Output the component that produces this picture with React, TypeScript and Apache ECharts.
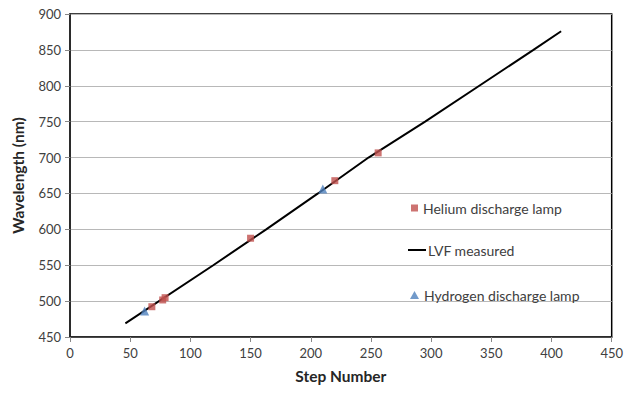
import React, { useEffect, useRef } from "react";
import * as echarts from "echarts";

const heliumPoints: [number, number][] = [
  [68, 492.2],
  [77, 501.6],
  [79, 504.8],
  [150, 587.6],
  [220, 667.8],
  [256, 706.5],
];
const hydrogenPoints: [number, number][] = [
  [62, 486.1],
  [210, 656.3],
];
const lvfMeasured: [number, number][] = [
  [46, 469],
  [119, 550],
  [163, 600],
  [206, 650],
  [248, 700],
  [295, 750],
  [340, 800],
  [385, 850],
  [408, 876],
];
const seriesNames = ["Helium discharge lamp", "LVF measured", "Hydrogen discharge lamp"];

const FONT = "Lato, 'Open Sans', sans-serif";

export default function App() {
  const ref = useRef<HTMLDivElement>(null);
  useEffect(() => {
    if (!ref.current) return;
    const chart = echarts.init(ref.current, undefined, { renderer: "svg" });
    const legendBase = {
      orient: "vertical" as const,
      itemGap: 0,
      textStyle: { color: "#404040", fontSize: 14, fontFamily: FONT },
      selectedMode: false,
    };
    chart.setOption({
      animation: false,
      backgroundColor: "#fff",
      grid: {
        left: 70,
        right: 14,
        top: 14,
        bottom: 56,
        show: true,
        borderColor: "#000",
        borderWidth: 1.5,
      },
      legend: [
        { ...legendBase, left: 406, top: 196, itemWidth: 7, itemHeight: 7, data: [{ name: seriesNames[0], icon: "rect" }] },
        { ...legendBase, left: 403, top: 238, itemWidth: 18, itemHeight: 2, textStyle: { ...legendBase.textStyle, padding: [0, 0, 0, -3] }, data: [{ name: seriesNames[1], icon: "rect" }] },
        { ...legendBase, left: 405, top: 283, itemWidth: 9, itemHeight: 8, data: [{ name: seriesNames[2], icon: "triangle" }] },
      ],
      xAxis: {
        type: "value",
        min: 0,
        max: 450,
        interval: 50,
        name: "Step Number",
        nameLocation: "middle",
        nameGap: 31,
        nameTextStyle: { fontFamily: FONT, fontWeight: "bold", fontSize: 15.5, color: "#262626" },
        axisLine: { show: true, lineStyle: { color: "#262626", width: 1.5 } },
        axisTick: { show: true, length: 5, lineStyle: { color: "#888" } },
        axisLabel: { color: "#404040", fontSize: 13, fontFamily: FONT, margin: 9 },
        splitLine: { show: false },
      },
      yAxis: {
        type: "value",
        min: 450,
        max: 900,
        interval: 50,
        name: "Wavelength (nm)",
        nameLocation: "middle",
        nameGap: 44,
        nameRotate: 90,
        nameTextStyle: { fontFamily: FONT, fontWeight: "bold", fontSize: 15.5, color: "#262626" },
        axisLine: { show: true, lineStyle: { color: "#262626", width: 1.5 } },
        axisTick: { show: true, length: 5, lineStyle: { color: "#888" } },
        axisLabel: { color: "#404040", fontSize: 13, fontFamily: FONT, margin: 9 },
        splitLine: { show: true, lineStyle: { color: "#b8b8b8", width: 1 } },
      },
      series: [
        {
          name: seriesNames[1],
          type: "line",
          data: lvfMeasured,
          symbol: "none",
          lineStyle: { color: "#000", width: 2 },
          itemStyle: { color: "#000" },
          z: 2,
        },
        {
          name: seriesNames[0],
          type: "scatter",
          data: heliumPoints,
          symbol: "rect",
          symbolSize: 7,
          itemStyle: { color: "#c0504d" },
          z: 3,
        },
        {
          name: seriesNames[2],
          type: "scatter",
          data: hydrogenPoints,
          symbol: "triangle",
          symbolSize: 9,
          itemStyle: { color: "#4f81bd" },
          z: 3,
        },
      ],
    });
    return () => chart.dispose();
  }, []);
  return <div ref={ref} style={{ width: 626, height: 393, position: "absolute", left: 0, top: 0 }} />;
}
